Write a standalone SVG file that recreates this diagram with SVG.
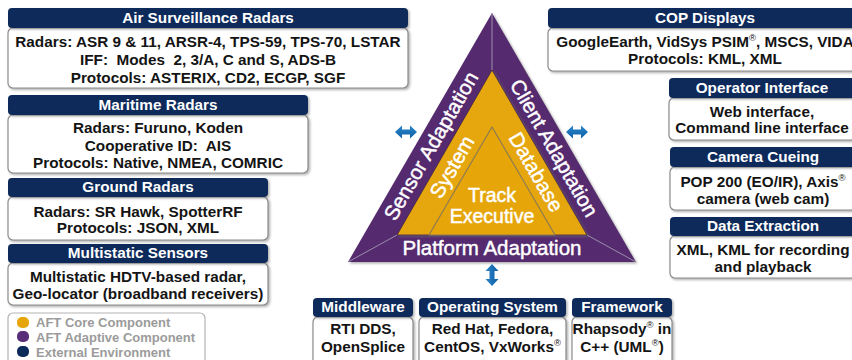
<svg xmlns="http://www.w3.org/2000/svg" width="852" height="360" viewBox="0 0 852 360">
<defs>
<filter id="sh" x="-5%" y="-10%" width="115%" height="130%">
<feDropShadow dx="1.5" dy="1.5" stdDeviation="0.8" flood-color="#6e6e6e" flood-opacity="0.55"/>
</filter>
<linearGradient id="blue" x1="0" y1="0" x2="0" y2="1">
<stop offset="0" stop-color="#2a86cc"/>
<stop offset="1" stop-color="#0f5fa3"/>
</linearGradient>
<linearGradient id="blueV" x1="0" y1="0" x2="1" y2="0">
<stop offset="0" stop-color="#2a86cc"/>
<stop offset="1" stop-color="#0f5fa3"/>
</linearGradient>
</defs>
<style>
.hdr{fill:#0b2b5a;filter:url(#sh);}
.body{fill:#ffffff;stroke:#8c8c8c;stroke-width:1.2;filter:url(#sh);}
.ht{font-family:"Liberation Sans",Arial,sans-serif;font-weight:bold;font-size:15.3px;fill:#ffffff;text-anchor:middle;}
.bt{font-family:"Liberation Sans",Arial,sans-serif;font-weight:bold;font-size:15.3px;fill:#141414;text-anchor:middle;}
.sup{font-size:9.5px;font-weight:normal;}
.tri{font-family:"Liberation Sans",Arial,sans-serif;font-size:20.5px;fill:#ffffff;stroke:#ffffff;stroke-width:0.45;text-anchor:middle;}
.lg{font-family:"Liberation Sans",Arial,sans-serif;font-weight:bold;font-size:13px;fill:#9b9b9b;}
.arrow{fill:url(#blue);}
</style>
<rect x="0" y="0" width="852" height="360" fill="#ffffff"/>

<g id="air-surveillance">
<rect class="body" x="8" y="28" width="400" height="60" rx="5"/>
<rect class="hdr" x="8" y="8" width="400" height="20" rx="4"/>
<text class="ht" x="208" y="23">Air Surveillance Radars</text>
<text class="bt" x="208" y="47">Radars: ASR 9 &amp; 11, ARSR-4, TPS-59, TPS-70, LSTAR</text>
<text class="bt" x="208" y="65" xml:space="preserve">IFF:  Modes  2, 3/A, C and S, ADS-B</text>
<text class="bt" x="208" y="83">Protocols: ASTERIX, CD2, ECGP, SGF</text>
</g>

<g id="maritime-radars">
<rect class="body" x="8" y="115" width="300" height="58" rx="5"/>
<rect class="hdr" x="8" y="95" width="300" height="20" rx="4"/>
<text class="ht" x="158" y="110">Maritime Radars</text>
<text class="bt" x="158" y="133">Radars: Furuno, Koden</text>
<text class="bt" x="158" y="151" xml:space="preserve">Cooperative ID:  AIS</text>
<text class="bt" x="158" y="168">Protocols: Native, NMEA, COMRIC</text>
</g>

<g id="ground-radars">
<rect class="body" x="8" y="197" width="260" height="43" rx="5"/>
<rect class="hdr" x="8" y="178" width="260" height="19" rx="4"/>
<text class="ht" x="138" y="192">Ground Radars</text>
<text class="bt" x="138" y="217">Radars: SR Hawk, SpotterRF</text>
<text class="bt" x="138" y="233">Protocols: JSON, XML</text>
</g>

<g id="multistatic-sensors">
<rect class="body" x="8" y="263" width="260" height="42" rx="5"/>
<rect class="hdr" x="8" y="244" width="260" height="19" rx="4"/>
<text class="ht" x="138" y="258">Multistatic Sensors</text>
<text class="bt" x="138" y="282">Multistatic HDTV-based radar,</text>
<text class="bt" x="138" y="299">Geo-locator (broadband receivers)</text>
</g>

<g id="legend">
<rect x="8" y="313" width="197" height="60" rx="5" fill="#ffffff" stroke="#b4b4b4" stroke-width="1.2"/>
<rect x="17" y="317" width="12" height="11" rx="5" fill="#e6a60a"/>
<rect x="17" y="331" width="12" height="11" rx="5" fill="#5a2d78"/>
<rect x="17" y="346" width="12" height="11" rx="5" fill="#0b2b5a"/>
<text class="lg" x="36" y="327">AFT Core Component</text>
<text class="lg" x="36" y="342">AFT Adaptive Component</text>
<text class="lg" x="36" y="357">External Environment</text>
</g>

<g id="cop-displays">
<rect class="body" x="548" y="28" width="314" height="43" rx="5"/>
<rect class="hdr" x="548" y="8" width="314" height="20" rx="4"/>
<text class="ht" x="705" y="23">COP Displays</text>
<text class="bt" x="705" y="47">GoogleEarth, VidSys PSIM<tspan class="sup" dy="-6">®</tspan><tspan dy="6">, MSCS, VIDA</tspan></text>
<text class="bt" x="705" y="64">Protocols: KML, XML</text>
</g>

<g id="operator-interface">
<rect class="body" x="669" y="98" width="188" height="42" rx="5"/>
<rect class="hdr" x="669" y="78" width="188" height="20" rx="4"/>
<text class="ht" x="762" y="93">Operator Interface</text>
<text class="bt" x="762" y="117">Web interface,</text>
<text class="bt" x="762" y="133">Command line interface</text>
</g>

<g id="camera-cueing">
<rect class="body" x="670" y="167" width="188" height="43" rx="5"/>
<rect class="hdr" x="670" y="147" width="188" height="20" rx="4"/>
<text class="ht" x="763" y="162">Camera Cueing</text>
<text class="bt" x="763" y="187">POP 200 (EO/IR), Axis<tspan class="sup" dy="-6">®</tspan></text>
<text class="bt" x="763" y="204">camera (web cam)</text>
</g>

<g id="data-extraction">
<rect class="body" x="670" y="236" width="188" height="42" rx="5"/>
<rect class="hdr" x="670" y="217" width="188" height="19" rx="4"/>
<text class="ht" x="763" y="231">Data Extraction</text>
<text class="bt" x="763" y="255">XML, KML for recording</text>
<text class="bt" x="763" y="272">and playback</text>
</g>

<g id="middleware">
<rect class="body" x="313" y="317" width="100" height="50" rx="5"/>
<rect class="hdr" x="313" y="298" width="100" height="19" rx="4"/>
<text class="ht" x="363" y="312">Middleware</text>
<text class="bt" x="363" y="334">RTI DDS,</text>
<text class="bt" x="363" y="352">OpenSplice</text>
</g>

<g id="operating-system">
<rect class="body" x="419" y="317" width="147" height="50" rx="5"/>
<rect class="hdr" x="419" y="298" width="147" height="19" rx="4"/>
<text class="ht" x="492.5" y="312">Operating System</text>
<text class="bt" x="492.5" y="334">Red Hat, Fedora,</text>
<text class="bt" x="492.5" y="352">CentOS, VxWorks<tspan class="sup" dy="-6">®</tspan></text>
</g>

<g id="framework">
<rect class="body" x="572" y="317" width="100" height="50" rx="5"/>
<rect class="hdr" x="572" y="298" width="100" height="19" rx="4"/>
<text class="ht" x="622" y="312">Framework</text>
<text class="bt" x="622" y="334">Rhapsody<tspan class="sup" dy="-6">®</tspan><tspan dy="6"> in</tspan></text>
<text class="bt" x="622" y="352">C++ (UML<tspan class="sup" dy="-6">®</tspan><tspan dy="6">)</tspan></text>
</g>

<g id="aft-triangle">
<polygon points="492,13 348,262 636,262" fill="#542b6e" filter="url(#sh)"/>
<line x1="492" y1="13" x2="492" y2="70" stroke="#9c8fab" stroke-width="1"/>
<line x1="348" y1="262" x2="397" y2="235" stroke="#9c8fab" stroke-width="1"/>
<line x1="636" y1="262" x2="587" y2="235" stroke="#9c8fab" stroke-width="1"/>
<polygon points="492,70 397,235 587,235" fill="#e6a60a" stroke="#3b1f4e" stroke-width="0.8" filter="url(#sh)"/>
<polygon points="492,127 429,235 555,235" fill="#e6a60a" stroke="#8c7a52" stroke-width="1.2" stroke-linejoin="round"/>
<text class="tri" transform="translate(431,146) rotate(-60)" y="7">Sensor Adaptation</text>
<text class="tri" transform="translate(554,148) rotate(60)" y="7">Client Adaptation</text>
<text class="tri" transform="translate(452,167) rotate(-60)" y="7">System</text>
<text class="tri" transform="translate(536,172) rotate(60)" y="7">Database</text>
<text class="tri" x="492" y="202" style="font-size:19.5px">Track</text>
<text class="tri" x="492" y="223" style="font-size:19.5px">Executive</text>
<text class="tri" x="492" y="255">Platform Adaptation</text>
</g>

<g id="connectors">
<polygon class="arrow" points="395,132 402,125.5 402,129.5 410,129.5 410,125.5 417,132 410,138.5 410,134.5 402,134.5 402,138.5"/>
<polygon class="arrow" points="566,132 573,125.5 573,129.5 581,129.5 581,125.5 588,132 581,138.5 581,134.5 573,134.5 573,138.5"/>
<polygon points="492,264 498.5,271 494.5,271 494.5,279 498.5,279 492,286 485.5,279 489.5,279 489.5,271 485.5,271" fill="url(#blueV)"/>
</g>
</svg>
